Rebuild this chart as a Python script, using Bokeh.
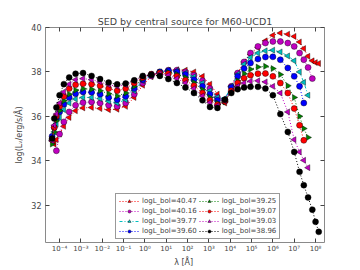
import numpy as np
from bokeh.plotting import figure
from bokeh.models import (ColumnDataSource, FixedTicker, LogAxis, LinearAxis, Legend,
                          LegendItem, Range1d, CustomJSTickFormatter)
from bokeh.embed import file_html
from bokeh.resources import INLINE

# ---- data ----
log_lambda = [-4.35, -4.25, -4.15, -4.0, -3.8, -3.55, -3.25, -2.9, -2.5, -2.1, -1.7, -1.3,
              -0.9, -0.5, -0.1, 0.3, 0.7, 1.1, 1.5, 1.9, 2.3, 2.7, 3.05, 3.4, 3.75, 4.05,
              4.35, 4.65, 4.95, 5.3, 5.65, 6.0, 6.35, 6.7, 7.0, 7.25, 7.45, 7.65, 7.85, 8.0, 8.15]

sed_4047 = [None, 34.75, 34.95, 35.2, 35.55, 35.95, 36.25, 36.38, 36.4, 36.35, 36.3, 36.32,
            36.45, 36.85, 37.4, 37.78, 37.98, 38.07, 38.1, 38.08, 38.0, 37.8, 37.45, 37.0, 36.6,
            37.35, 37.95, 38.45, 38.78, 39.1, 39.4, 39.65, 39.75, 39.7, 39.6, 39.35, 39.05,
            38.7, 38.5, 38.42, 38.38]
sed_4016 = [None, None, 34.45, 35.2, 35.75, 36.2, 36.5, 36.62, 36.65, 36.6, 36.5, 36.45,
            36.6, 37.0, 37.5, 37.82, 38.0, 38.08, 38.08, 38.0, 37.85, 37.6, 37.25, 36.85, 36.7,
            37.35, 37.95, 38.45, 38.85, 39.15, 39.3, 39.37, 39.37, 39.3, 39.15, 38.85, 38.55,
            38.2, 37.7, None, None]
sed_3977 = [34.9, 35.3, 35.65, 35.95, 36.3, 36.6, 36.78, 36.85, 36.85, 36.8, 36.68, 36.6,
            36.75, 37.15, 37.6, 37.85, 38.0, 38.07, 38.05, 37.95, 37.78, 37.5, 37.15, 36.85, 36.8,
            37.35, 37.9, 38.35, 38.65, 38.85, 38.95, 38.98, 38.9, 38.72, 38.5, 38.0, 37.53,
            36.95, None, None, None]
sed_3960 = [35.1, 35.5, 35.9, 36.2, 36.55, 36.85, 37.02, 37.1, 37.08, 37.0, 36.85, 36.75,
            36.9, 37.25, 37.65, 37.88, 38.0, 38.05, 38.0, 37.88, 37.65, 37.35, 37.0, 36.72, 36.75,
            37.3, 37.8, 38.15, 38.4, 38.58, 38.67, 38.68, 38.55, 38.18, 37.8, 37.35, 36.6,
            None, None, None, None]
sed_3925 = [34.75, 35.3, 35.8, 36.25, 36.7, 37.0, 37.18, 37.24, 37.22, 37.15, 37.02, 36.92,
            37.05, 37.35, 37.7, 37.88, 37.97, 37.98, 37.9, 37.75, 37.52, 37.2, 36.85, 36.6, 36.65,
            37.15, 37.6, 37.92, 38.12, 38.22, 38.25, 38.15, 37.88, 37.38, 36.85, 36.0, 35.45,
            35.05, None, None, None]
sed_3907 = [34.95, 35.5, 36.0, 36.45, 36.9, 37.25, 37.42, 37.47, 37.45, 37.38, 37.25, 37.15,
            37.25, 37.5, 37.75, 37.9, 37.95, 37.92, 37.8, 37.62, 37.38, 37.05, 36.72, 36.52, 36.68,
            37.15, 37.5, 37.72, 37.85, 37.92, 37.93, 37.8, 37.5, 37.05, 36.35, 35.6, 34.92,
            None, None, None, None]
sed_3903 = [34.9, 35.6, 36.1, 36.6, 37.1, 37.45, 37.65, 37.7, 37.65, 37.55, 37.42, 37.35,
            37.42, 37.6, 37.8, 37.9, 37.92, 37.85, 37.7, 37.5, 37.25, 36.92, 36.62, 36.48, 36.7,
            37.1, 37.35, 37.5, 37.58, 37.6, 37.55, 37.35, 37.05, 36.2, 34.95, 34.4, 34.02,
            33.69, None, None, None]
sed_3896 = [35.0, 35.9, 36.4, 36.95, 37.45, 37.75, 37.92, 37.95, 37.82, 37.68, 37.52, 37.44,
            37.48, 37.62, 37.82, 37.87, 37.82, 37.68, 37.5, 37.3, 37.05, 36.72, 36.42, 36.38, 36.75,
            37.05, 37.22, 37.3, 37.33, 37.33, 37.25, 36.95, 36.1, 35.3, 34.4, 33.5, 32.9,
            32.35, 31.8, 31.25, 30.8]

legend_labels = ["logL_bol=40.47", "logL_bol=40.16", "logL_bol=39.77", "logL_bol=39.60",
                 "logL_bol=39.25", "logL_bol=39.07", "logL_bol=39.03", "logL_bol=38.96"]

x_tick_exponents = [-4, -3, -2, -1, 0, 1, 2, 3, 4, 5, 6, 7, 8]
x_tick_labels = ["10\u207b\u2074", "10\u207b\u00b3", "10\u207b\u00b2", "10\u207b\u00b9", "10\u2070",
                 "10\u00b9", "10\u00b2", "10\u00b3", "10\u2074", "10\u2075", "10\u2076",
                 "10\u2077", "10\u2078"]
y_ticks = [32, 34, 36, 38, 40]

# ---- styles ----
FONT = "DejaVu Sans"
GRAY = "#8a8a8a"
series = [sed_4047, sed_4016, sed_3977, sed_3960, sed_3925, sed_3907, sed_3903, sed_3896]
styles = [
    ("#ff0000", "triangle", np.pi / 2, "1 2"),
    ("#bf00bf", "circle", 0.0, "1 2"),
    ("#00bfbf", "triangle", np.pi / 2, "3 2 1 2"),
    ("#0000ff", "circle", 0.0, "1 2"),
    ("#008000", "triangle", -np.pi / 2, "1 2"),
    ("#ff0000", "circle", 0.0, "1 2"),
    ("#bf00bf", "triangle", np.pi / 2, "1 2"),
    ("#000000", "circle", 0.0, "1 2"),
]

p = figure(width=360, height=270, x_axis_type="log", output_backend="svg",
           toolbar_location=None,
           x_range=Range1d(10 ** -4.66, 10 ** 8.42), y_range=Range1d(30.32, 40.0),
           min_border_left=45, min_border_right=36, min_border_top=27, min_border_bottom=28)
p.title.text = "SED by central source for M60-UCD1"
p.title.align = "center"
p.title.text_font = FONT
p.title.text_font_size = "9.5px"
p.title.text_font_style = "normal"
p.title.standoff = 2
p.xgrid.visible = False
p.ygrid.visible = False
p.outline_line_color = GRAY
p.outline_line_width = 1

xticks = [10.0 ** e for e in x_tick_exponents]
overrides = {t: lab for t, lab in zip(xticks, x_tick_labels)}

def style_axis(ax, labels=True):
    ax.axis_line_color = None
    ax.major_tick_in = 4
    ax.major_tick_out = 0
    ax.minor_tick_in = 0
    ax.minor_tick_out = 0
    ax.major_tick_line_color = "#444444"
    ax.major_label_text_font = FONT
    ax.axis_label_text_font = FONT
    ax.axis_label_text_font_style = "normal"
    if not labels:
        ax.major_label_text_font_size = "0px"

xa = p.xaxis[0]
xa.ticker = FixedTicker(ticks=xticks)
xa.major_label_overrides = overrides
style_axis(xa)
xa.major_label_text_font_size = "7px"
xa.major_label_standoff = 2
xa.axis_label = "\u03bb  [\u00c5]"
xa.axis_label_text_font_size = "8px"
xa.axis_label_standoff = 2

ya = p.yaxis[0]
ya.ticker = FixedTicker(ticks=y_ticks)
style_axis(ya)
ya.major_label_text_font_size = "8px"
ya.major_label_standoff = 4
ya.axis_label = "log(L\u1d65/erg/s/\u00c5)"
ya.axis_label_text_font_size = "8px"
ya.axis_label_standoff = 4

top = LogAxis(ticker=FixedTicker(ticks=xticks),
              formatter=CustomJSTickFormatter(code="return ''"))
style_axis(top, labels=False)
p.add_layout(top, "above")
right = LinearAxis(ticker=FixedTicker(ticks=y_ticks),
                   formatter=CustomJSTickFormatter(code="return ''"))
style_axis(right, labels=False)
p.add_layout(right, "right")

items = []
for ys, (color, marker, ang, dash), label in zip(series, styles, legend_labels):
    xs = [10.0 ** g for g, v in zip(log_lambda, ys) if v is not None]
    vs = [v for v in ys if v is not None]
    src = ColumnDataSource(dict(x=xs, y=vs))
    r1 = p.line("x", "y", source=src, line_color=color, line_dash=dash, line_width=1)
    r2 = p.scatter("x", "y", source=src, marker=marker, angle=ang, size=6,
                   fill_color=color, line_color="black", line_width=0.4)
    items.append(LegendItem(label=label, renderers=[r1, r2]))

legend = Legend(items=items, ncols=2, location=(70, 3))
legend.label_text_font = FONT
legend.label_text_font_size = "7px"
legend.label_height = 8
legend.label_standoff = 3
legend.glyph_width = 20
legend.glyph_height = 8
legend.spacing = 2
legend.padding = 3
legend.margin = 0
legend.border_line_color = "#333333"
legend.border_line_width = 1
p.add_layout(legend)

open("out.html", "w").write(file_html(p, INLINE))
